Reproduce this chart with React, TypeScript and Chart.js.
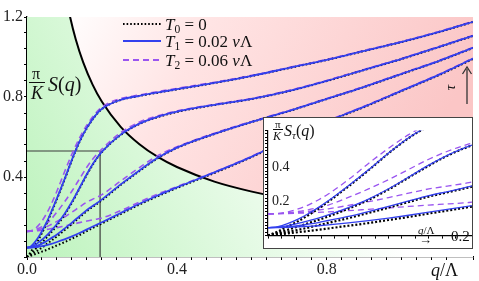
import React, { useEffect, useRef } from "react";
import { Chart, registerables } from "chart.js";
Chart.register(...registerables);

// momentum grid q/Λ
const qGrid = [0, 0.01, 0.02, 0.03, 0.04, 0.05, 0.06, 0.08, 0.1, 0.12, 0.14, 0.16, 0.18, 0.2, 0.25, 0.3, 0.35, 0.4, 0.5, 0.6, 0.7, 0.8, 0.9, 1.0, 1.1, 1.19];

// T0 = 0 (dotted)
const t0A = [0, 0.025, 0.055, 0.085, 0.12, 0.158, 0.2, 0.29, 0.385, 0.485, 0.575, 0.645, 0.70, 0.74, 0.785, 0.805, 0.822, 0.838, 0.87, 0.905, 0.945, 0.985, 1.03, 1.075, 1.125, 1.175];
const t0B = [0, 0.017, 0.035, 0.054, 0.073, 0.092, 0.113, 0.158, 0.21, 0.272, 0.342, 0.412, 0.475, 0.525, 0.61, 0.665, 0.70, 0.725, 0.76, 0.79, 0.83, 0.88, 0.935, 0.99, 1.05, 1.105];
const t0C = [0, 0.011, 0.022, 0.034, 0.047, 0.061, 0.075, 0.103, 0.134, 0.165, 0.198, 0.23, 0.257, 0.284, 0.36, 0.43, 0.495, 0.545, 0.615, 0.675, 0.73, 0.79, 0.85, 0.915, 0.98, 1.045];
const t0D = [0, 0.0065, 0.013, 0.02, 0.027, 0.034, 0.042, 0.058, 0.074, 0.092, 0.11, 0.13, 0.149, 0.168, 0.215, 0.262, 0.305, 0.345, 0.42, 0.5, 0.59, 0.675, 0.75, 0.83, 0.91, 0.99];

// T1 = 0.02 νΛ (solid blue)
const t1A = [0.047, 0.053, 0.072, 0.097, 0.129, 0.165, 0.205, 0.294, 0.388, 0.487, 0.577, 0.647, 0.702, 0.741, 0.786, 0.806, 0.823, 0.839, 0.871, 0.906, 0.946, 0.986, 1.031, 1.076, 1.126, 1.176];
const t1B = [0.047, 0.05, 0.059, 0.072, 0.087, 0.103, 0.122, 0.165, 0.215, 0.276, 0.345, 0.415, 0.477, 0.527, 0.612, 0.667, 0.702, 0.727, 0.761, 0.791, 0.831, 0.881, 0.936, 0.991, 1.051, 1.106];
const t1C = [0.047, 0.048, 0.052, 0.058, 0.067, 0.077, 0.089, 0.113, 0.142, 0.172, 0.204, 0.235, 0.261, 0.288, 0.363, 0.433, 0.497, 0.547, 0.616, 0.676, 0.731, 0.791, 0.851, 0.916, 0.981, 1.046];
const t1D = [0.047, 0.047, 0.049, 0.051, 0.054, 0.058, 0.063, 0.075, 0.088, 0.103, 0.12, 0.138, 0.156, 0.174, 0.22, 0.266, 0.309, 0.348, 0.423, 0.502, 0.592, 0.677, 0.752, 0.832, 0.912, 0.992];

// T2 = 0.06 νΛ (dashed purple)
const t2A = [0.128, 0.131, 0.14, 0.157, 0.18, 0.21, 0.245, 0.33, 0.425, 0.515, 0.595, 0.66, 0.712, 0.75, 0.792, 0.81, 0.827, 0.843, 0.874, 0.908, 0.948, 0.988, 1.033, 1.078, 1.128, 1.178];
const t2B = [0.128, 0.13, 0.135, 0.142, 0.152, 0.165, 0.18, 0.225, 0.275, 0.33, 0.39, 0.45, 0.5, 0.54, 0.622, 0.675, 0.706, 0.73, 0.763, 0.793, 0.833, 0.883, 0.938, 0.993, 1.053, 1.108];
const t2C = [0.128, 0.129, 0.132, 0.136, 0.142, 0.15, 0.158, 0.178, 0.2, 0.224, 0.25, 0.275, 0.293, 0.312, 0.38, 0.447, 0.508, 0.551, 0.619, 0.678, 0.733, 0.793, 0.853, 0.918, 0.983, 1.048];
const t2D = [0.128, 0.129, 0.13, 0.132, 0.134, 0.137, 0.14, 0.147, 0.155, 0.163, 0.172, 0.18, 0.187, 0.195, 0.232, 0.275, 0.316, 0.352, 0.425, 0.504, 0.594, 0.679, 0.754, 0.834, 0.914, 0.994];

// crossover boundary (black curve), values above 1.2 are off the plot
const boundaryQ = [0, 0.06, 0.08, 0.1, 0.115, 0.13, 0.15, 0.175, 0.2, 0.25, 0.3, 0.35, 0.4, 0.5, 0.6, 0.7, 0.8, 0.9, 1.0, 1.1, 1.19];
const boundaryS = [3.0, 2.0, 1.6, 1.34, 1.2, 1.089, 0.973, 0.862, 0.776, 0.651, 0.564, 0.499, 0.45, 0.377, 0.327, 0.289, 0.261, 0.238, 0.219, 0.203, 0.19];

// zoom rectangle
const zoomQ = [0, 0.195, 0.195];
const zoomS = [0.53, 0.53, 0];

const SERIF = "'Liberation Serif', 'DejaVu Serif', serif";
Chart.defaults.font.family = SERIF;

const pts = (xs: number[], ys: number[]) => xs.map((x, i) => ({ x, y: ys[i] }));
const isMult = (v: number, s: number) => Math.abs(v / s - Math.round(v / s)) < 1e-6;

const BLUE = "#3340ee";
const PURPLE = "#9a55f0";

function curveSets(inset: boolean) {
  const common = { pointRadius: 0, fill: false, cubicInterpolationMode: "monotone" as const };
  const solid = [t1A, t1B, t1C, t1D].map((d) => ({
    ...common, data: pts(qGrid, d), borderColor: BLUE, borderWidth: inset ? 1.3 : 1.8, order: 1,
  }));
  const dotted = [t0A, t0B, t0C, t0D].map((d) => ({
    ...common, data: pts(qGrid, d), borderColor: "#000", borderWidth: inset ? 2.2 : 2,
    borderDash: inset ? [2, 2] : [1.6, 2.2], order: 2,
  }));
  const dashed = [t2A, t2B, t2C, t2D].map((d) => ({
    ...common, data: pts(qGrid, d), borderColor: PURPLE, borderWidth: inset ? 1.3 : 1.6,
    borderDash: [6, 4], order: 3,
  }));
  return [...solid, ...dotted, ...dashed];
}

const greenBg = (c: any) => {
  const chart = c.chart;
  const a = chart.chartArea;
  if (!a) return "rgba(0,0,0,0)";
  const g = chart.ctx.createLinearGradient(a.left, a.bottom, a.left + 303, a.bottom - 157);
  g.addColorStop(0, "rgb(188,243,188)");
  g.addColorStop(1, "rgb(255,255,255)");
  return g;
};
const pinkBg = (c: any) => {
  const chart = c.chart;
  const a = chart.chartArea;
  if (!a) return "rgba(0,0,0,0)";
  const g = chart.ctx.createLinearGradient(60, a.top, 400, a.top + 183);
  g.addColorStop(0, "rgb(255,255,255)");
  g.addColorStop(0.35, "rgb(255,228,228)");
  g.addColorStop(1, "rgb(251,198,198)");
  return g;
};

function mainConfig(): any {
  const boundary = pts(boundaryQ, boundaryS);
  return {
    type: "line",
    data: {
      datasets: [
        ...curveSets(false),
        { data: boundary, borderColor: "#000", borderWidth: 2, pointRadius: 0, fill: false, cubicInterpolationMode: "monotone", order: 4 },
        { data: pts(zoomQ, zoomS), borderColor: "#3a3a3a", borderWidth: 1.2, pointRadius: 0, fill: false, order: 5 },
        { data: boundary, borderColor: "rgba(0,0,0,0)", borderWidth: 0, pointRadius: 0, fill: "start", backgroundColor: greenBg, cubicInterpolationMode: "monotone", order: 10 },
        { data: boundary, borderColor: "rgba(0,0,0,0)", borderWidth: 0, pointRadius: 0, fill: "end", backgroundColor: pinkBg, cubicInterpolationMode: "monotone", order: 11 },
      ],
    },
    options: {
      responsive: false,
      animation: false,
      events: [],
      layout: { padding: { top: 17, right: 6, left: 0, bottom: 0 } },
      plugins: { legend: { display: false }, tooltip: { enabled: false } },
      scales: {
        x: {
          type: "linear", min: 0, max: 1.19,
          afterFit: (s: any) => { s.height = 24; },
          grid: { drawOnChartArea: false, drawTicks: true, tickLength: 3, color: "#000", tickColor: "#000" },
          border: { display: true, color: "#000", width: 1.3 },
          ticks: {
            stepSize: 0.04, autoSkip: false, maxRotation: 0, padding: 0, color: "#222",
            font: { size: 16, family: SERIF },
            callback: (v: number) => (isMult(v, 0.4) && v < 1.0 ? v.toFixed(1) : ""),
          },
        },
        y: {
          type: "linear", min: 0, max: 1.2,
          afterFit: (s: any) => { s.width = 27; },
          grid: { drawOnChartArea: false, drawTicks: true, tickLength: 3, color: "#000", tickColor: "#000" },
          border: { display: true, color: "#000", width: 1.3 },
          ticks: {
            stepSize: 0.08, autoSkip: false, padding: 1, color: "#222",
            font: { size: 16, family: SERIF },
            callback: (v: number) => (v > 0.1 && isMult(v, 0.4) ? v.toFixed(1) : ""),
          },
        },
      },
    },
  };
}

function insetConfig(): any {
  return {
    type: "line",
    data: { datasets: curveSets(true) },
    options: {
      responsive: false,
      animation: false,
      events: [],
      layout: { padding: { top: 2, right: 0, left: 0, bottom: 0 } },
      plugins: { legend: { display: false }, tooltip: { enabled: false } },
      scales: {
        x: {
          type: "linear", min: 0, max: 0.203,
          afterFit: (s: any) => { s.height = 3; },
          grid: { drawOnChartArea: false, drawTicks: true, tickLength: 3, color: "#000", tickColor: "#000" },
          border: { display: true, color: "#000", width: 1.2 },
          ticks: { display: false, stepSize: 0.2 / 15, autoSkip: false },
        },
        y: {
          type: "linear", min: 0, max: 0.62,
          afterFit: (s: any) => { s.width = 4; },
          grid: { drawOnChartArea: false, drawTicks: true, tickLength: 3, color: "#000", tickColor: "#000" },
          border: { display: true, color: "#000", width: 1.2 },
          ticks: {
            mirror: true, stepSize: 0.02, autoSkip: false, padding: 4, color: "#222",
            font: { size: 14, family: SERIF },
            callback: (v: number) => (v > 0.1 && v < 0.5 && isMult(v, 0.2) ? v.toFixed(1) : ""),
          },
        },
      },
    },
  };
}

const abs = (left: number, top: number, extra: React.CSSProperties = {}): React.CSSProperties => ({
  position: "absolute", left, top, whiteSpace: "nowrap", fontFamily: SERIF, color: "#111", lineHeight: 1, ...extra,
});

const subStyle: React.CSSProperties = { fontSize: "0.68em", verticalAlign: "-0.3em", lineHeight: 0 };

function LegendRow({ top, kind, children }: { top: number; kind: "dot" | "solid" | "dash"; children: React.ReactNode }) {
  const stroke = kind === "dot" ? "#000" : kind === "solid" ? BLUE : PURPLE;
  const dash = kind === "dot" ? "1.6 2" : kind === "dash" ? "6 4" : undefined;
  return (
    <div style={{ ...abs(123, top), height: 20, display: "flex", alignItems: "center" }}>
      <svg width={38} height={4} style={{ display: "block" }}>
        <line x1={0} y1={2} x2={38} y2={2} stroke={stroke} strokeWidth={kind === "dot" ? 2 : 1.8} strokeDasharray={dash} />
      </svg>
      <span style={{ marginLeft: 4, fontSize: 17 }}>{children}</span>
    </div>
  );
}

export default function App() {
  const mainRef = useRef<HTMLCanvasElement>(null);
  const insetRef = useRef<HTMLCanvasElement>(null);

  useEffect(() => {
    document.body.style.margin = "0";
    const c1 = new Chart(mainRef.current as HTMLCanvasElement, mainConfig());
    const c2 = new Chart(insetRef.current as HTMLCanvasElement, insetConfig());
    return () => {
      c1.destroy();
      c2.destroy();
    };
  }, []);

  return (
    <div style={{ position: "fixed", left: 0, top: 0, width: 479, height: 281, background: "#fff", overflow: "hidden" }}>
      <canvas ref={mainRef} width={479} height={281} style={{ position: "absolute", left: 0, top: 0 }} />

      {/* main y label: π/K S(q) */}
      <div style={abs(32, 66, { fontSize: 16 })}>π</div>
      <div style={{ position: "absolute", left: 29, top: 82, width: 16, height: 1.2, background: "#111" }} />
      <div style={abs(31, 84, { fontSize: 18, fontStyle: "italic" })}>K</div>
      <div style={abs(48, 74, { fontSize: 20 })}>
        <i>S</i>(<i>q</i>)
      </div>

      {/* legend */}
      <LegendRow top={14} kind="dot">
        <i>T</i><sub style={subStyle}>0</sub> = 0
      </LegendRow>
      <LegendRow top={31} kind="solid">
        <i>T</i><sub style={subStyle}>1</sub> = 0.02 <i>ν</i>Λ
      </LegendRow>
      <LegendRow top={50} kind="dash">
        <i>T</i><sub style={subStyle}>2</sub> = 0.06 <i>ν</i>Λ
      </LegendRow>

      {/* tau arrow */}
      <div style={abs(448, 80, { fontSize: 15, fontStyle: "italic", transform: "rotate(-90deg)" })}>τ</div>
      <svg width={14} height={44} style={{ position: "absolute", left: 460, top: 64 }}>
        <line x1={7} y1={40} x2={7} y2={5} stroke="#333" strokeWidth={1.3} />
        <path d="M2.5,10 L7,3 L11.5,10" fill="none" stroke="#333" strokeWidth={1.3} />
      </svg>

      {/* main x label */}
      <div style={abs(431, 261, { fontSize: 18 })}>
        <i>q</i>/Λ
      </div>

      {/* inset */}
      <div style={{ position: "absolute", left: 263, top: 117, width: 210, height: 132, boxSizing: "border-box", border: "1px solid #444", background: "#fff" }}>
        <canvas ref={insetRef} width={208} height={130} style={{ position: "absolute", left: 0, top: 0 }} />
      </div>
      <div style={abs(275, 119, { fontSize: 11 })}>π</div>
      <div style={{ position: "absolute", left: 273, top: 129, width: 10, height: 1, background: "#111" }} />
      <div style={abs(273, 130, { fontSize: 12, fontStyle: "italic" })}>K</div>
      <div style={abs(284, 123, { fontSize: 16 })}>
        <i>S</i><sub style={{ ...subStyle, fontStyle: "italic" }}>τ</sub>(<i>q</i>)
      </div>
      <div style={abs(418, 225, { fontSize: 11 })}>
        <i>q</i>/Λ
      </div>
      <div style={abs(419, 233, { fontSize: 13 })}>→</div>
      <div style={abs(451, 229, { fontSize: 15 })}>0.2</div>
    </div>
  );
}
